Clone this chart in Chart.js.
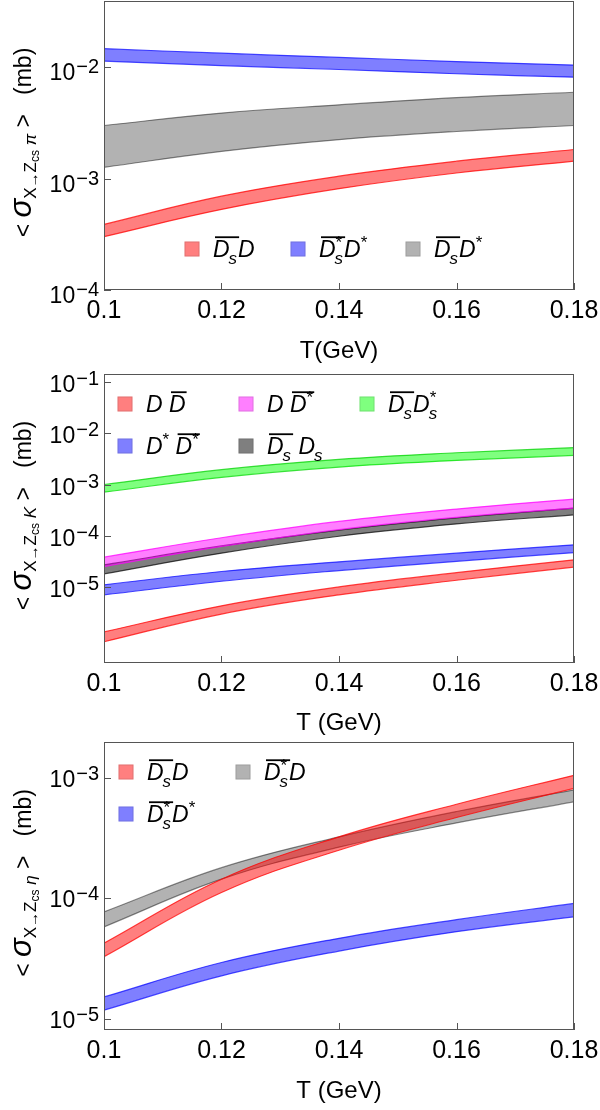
<!DOCTYPE html>
<html>
<head>
<meta charset="utf-8">
<title>Thermal cross sections of X to Zcs</title>
<script src="https://cdn.jsdelivr.net/npm/chart.js@4.4.1/dist/chart.umd.min.js"></script>
<style>
  body { margin: 0; background: #fff; }
  canvas { display: block; }
</style>
</head>
<body>
<canvas id="piChart" width="600" height="370"></canvas>
<canvas id="kChart" width="600" height="370"></canvas>
<canvas id="etaChart" width="600" height="370"></canvas>
<script>
// Temperature grid (GeV) and x tick values
const temps = [0.1, 0.12, 0.14, 0.16, 0.18];
const tempTicks = [0.1, 0.12, 0.14, 0.16, 0.18];

// <sigma X -> Zcs pi> (mb), upper and lower edge of each band
const piDsD_hi = [3.88e-4, 6.95e-4, 1.05e-3, 1.43e-3, 1.82e-3];
const piDsD_lo = [3.01e-4, 5.28e-4, 8.1e-4, 1.12e-3, 1.43e-3];
const piDsStDSt_hi = [0.0146, 0.0133, 0.0122, 0.0112, 0.0104];
const piDsStDSt_lo = [0.0113, 0.0103, 0.0095, 0.0087, 0.0081];
const piDsDSt_hi = [2.99e-3, 3.86e-3, 4.58e-3, 5.32e-3, 5.94e-3];
const piDsDSt_lo = [1.26e-3, 1.75e-3, 2.23e-3, 2.64e-3, 2.99e-3];
const piTicks = [1e-4, 1e-3, 1e-2];

// <sigma X -> Zcs K> (mb)
const kDD_hi = [1.32e-6, 4.27e-6, 1.0e-5, 1.9e-5, 3.39e-5];
const kDD_lo = [8.5e-7, 2.95e-6, 7.0e-6, 1.35e-5, 2.44e-5];
const kDDSt_hi = [3.82e-5, 9.12e-5, 1.9e-4, 3.31e-4, 5.19e-4];
const kDDSt_lo = [2.5e-5, 6.17e-5, 1.32e-4, 2.29e-4, 3.46e-4];
const kDsDsSt_hi = [1.0e-3, 1.95e-3, 3.09e-3, 4.17e-3, 5.25e-3];
const kDsDsSt_lo = [7.08e-4, 1.38e-3, 2.19e-3, 2.95e-3, 3.72e-3];
const kDStDSt_hi = [1.1e-5, 2.0e-5, 3.09e-5, 4.57e-5, 6.64e-5];
const kDStDSt_lo = [7.0e-6, 1.29e-5, 2.09e-5, 3.16e-5, 4.68e-5];
const kDsDs_hi = [2.7e-5, 6.31e-5, 1.29e-4, 2.24e-4, 3.46e-4];
const kDsDs_lo = [1.8e-5, 4.57e-5, 9.77e-5, 1.7e-4, 2.56e-4];
const kTicks = [1e-5, 1e-4, 1e-3, 1e-2, 1e-1];

// <sigma X -> Zcs eta> (mb)
const etaDsD_hi = [4.27e-5, 1.445e-4, 3.24e-4, 6.03e-4, 1.047e-3];
const etaDsD_lo = [3.29e-5, 1.12e-4, 2.51e-4, 4.68e-4, 8.15e-4];
const etaDsStD_hi = [7.75e-5, 1.8e-4, 3.24e-4, 5.25e-4, 7.94e-4];
const etaDsStD_lo = [5.82e-5, 1.445e-4, 2.66e-4, 4.22e-4, 6.31e-4];
const etaDsStDSt_hi = [1.53e-5, 2.95e-5, 4.68e-5, 6.68e-5, 9.1e-5];
const etaDsStDSt_lo = [1.19e-5, 2.29e-5, 3.67e-5, 5.31e-5, 7.05e-5];
const etaTicks = [1e-5, 1e-4, 1e-3];

// Legend labels: t = letter, sup / sub = small marks, bar = under the overline
const lblDsD = [{ t: "D", sub: "s", bar: 1 }, { t: "D" }];
const lblDsStDSt = [{ t: "D", sup: "*", sub: "s", bar: 1 }, { t: "D", sup: "*" }];
const lblDsDSt = [{ t: "D", sub: "s", bar: 1 }, { t: "D", sup: "*" }];
const lblDD = [{ t: "D" }, { t: " " }, { t: "D", bar: 1 }];
const lblDDSt = [{ t: "D" }, { t: " " }, { t: "D", sup: "*", bar: 1 }];
const lblDsDsSt = [{ t: "D", sub: "s", bar: 1 }, { t: "D", sup: "*", sub: "s" }];
const lblDStDSt = [{ t: "D", sup: "*" }, { t: " " }, { t: "D", sup: "*", bar: 1 }];
const lblDsDs = [{ t: "D", sub: "s", bar: 1 }, { t: " " }, { t: "D", sub: "s" }];
const lblDsStD = [{ t: "D", sup: "*", sub: "s", bar: 1 }, { t: "D" }];

const FAMILY = "'Liberation Sans', Arial, sans-serif";

const RED = ["rgba(255,0,0,0.5)", "rgba(255,0,0,0.75)"];
const BLUE = ["rgba(0,0,255,0.5)", "rgba(0,0,255,0.7)"];
const GRAY = ["rgba(0,0,0,0.3)", "rgba(0,0,0,0.45)"];
const MAGENTA = ["rgba(255,0,255,0.5)", "rgba(255,0,255,0.75)"];
const GREEN = ["rgba(0,255,0,0.5)", "rgba(0,210,0,0.75)"];
const DARK = ["rgba(0,0,0,0.5)", "rgba(0,0,0,0.7)"];

// Two line datasets per band, the upper one filled down to the lower one
function band(name, hi, lo, colors) {
  const common = {
    borderColor: colors[1],
    borderWidth: 1.2,
    pointRadius: 0,
    tension: 0.4,
  };
  return [
    { label: name, data: temps.map((t, i) => ({ x: t, y: hi[i] })), fill: "+1", backgroundColor: colors[0], ...common },
    { label: name + " (low)", data: temps.map((t, i) => ({ x: t, y: lo[i] })), fill: false, ...common },
  ];
}

// Draw a run of text pieces {t, size, it, dy} starting at x on baseline y
function drawRun(ctx, parts, x, y) {
  let cx = x;
  parts.forEach((p) => {
    ctx.font = (p.it ? "italic " : "") + p.size + "px " + FAMILY;
    ctx.fillText(p.t, cx, y + (p.dy || 0));
    cx += ctx.measureText(p.t).width;
  });
  return cx - x;
}

function runWidth(ctx, parts) {
  let w = 0;
  parts.forEach((p) => {
    ctx.font = (p.it ? "italic " : "") + p.size + "px " + FAMILY;
    w += ctx.measureText(p.t).width;
  });
  return w;
}

// Legend label with overlines, sub- and superscripts
function drawLabel(ctx, pieces, x, y, size) {
  let cx = x;
  let bar = null;
  const bars = [];
  const small = Math.round(size * 0.75);
  pieces.forEach((p) => {
    const start = cx;
    ctx.font = "italic " + size + "px " + FAMILY;
    ctx.fillText(p.t, cx, y);
    const w = ctx.measureText(p.t).width;
    let extra = 0;
    if (p.sup) {
      ctx.font = small + "px " + FAMILY;
      ctx.fillText(p.sup, cx + w, y - size * 0.38);
      extra = ctx.measureText(p.sup).width;
    }
    if (p.sub) {
      ctx.font = "italic " + small + "px " + FAMILY;
      ctx.fillText(p.sub, cx + w - 1, y + size * 0.3);
      extra = Math.max(extra, ctx.measureText(p.sub).width);
    }
    cx += w + extra;
    if (p.bar) {
      if (!bar) bar = [start, cx];
      else bar[1] = cx;
    } else if (bar) {
      bars.push(bar);
      bar = null;
    }
  });
  if (bar) bars.push(bar);
  ctx.lineWidth = 1.8;
  ctx.strokeStyle = "#000";
  bars.forEach(([a, b]) => {
    ctx.beginPath();
    ctx.moveTo(a + 2, y - size * 0.86);
    ctx.lineTo(b + 1, y - size * 0.86);
    ctx.stroke();
  });
}

// Frame, inward ticks, y labels with exponents, rotated y title and legend
const decorations = {
  id: "decorations",
  afterDraw(chart, args, opts) {
    const { ctx, chartArea: a } = chart;
    const xs = chart.scales.x;
    const ys = chart.scales.y;
    ctx.save();
    ctx.strokeStyle = "#555";
    ctx.lineWidth = 1;
    ctx.strokeRect(a.left + 0.5, a.top + 0.5, a.right - a.left - 1, a.bottom - a.top - 1);
    ctx.beginPath();
    tempTicks.forEach((v) => {
      const px = Math.round(xs.getPixelForValue(v)) + 0.5;
      ctx.moveTo(px, a.bottom);
      ctx.lineTo(px, a.bottom - 7);
    });
    opts.yTicks.forEach((v) => {
      const py = Math.round(ys.getPixelForValue(v)) + 0.5;
      ctx.moveTo(a.left, py);
      ctx.lineTo(a.left + 7, py);
    });
    ctx.stroke();

    ctx.fillStyle = "#000";
    ctx.textAlign = "left";
    ctx.textBaseline = "alphabetic";
    opts.yTicks.forEach((v) => {
      const py = ys.getPixelForValue(v) + opts.labelShift;
      const exp = "\u2212" + Math.abs(Math.round(Math.log10(v)));
      ctx.font = "20px " + FAMILY;
      const xe = a.left - 5 - ctx.measureText(exp).width;
      ctx.fillText(exp, xe, py - 7);
      ctx.font = "23px " + FAMILY;
      ctx.fillText("10", xe - ctx.measureText("10").width - 1, py);
    });

    const title = [
      { t: "< ", size: 23 },
      { t: "\u03c3", size: 31, it: true },
      { t: "X", size: 17, dy: 5 },
      { t: "\u2192", size: 15, dy: 7 },
      { t: "Z", size: 17, dy: 5 },
      { t: "cs", size: 12, dy: 8 },
      { t: " " + opts.meson, size: 17, it: true, dy: 5 },
      { t: " >   (mb)", size: 23 },
    ];
    const tw = runWidth(ctx, title);
    ctx.translate(31, (a.top + a.bottom) / 2 - 3);
    ctx.rotate(-Math.PI / 2);
    drawRun(ctx, title, -tw / 2, 0);
    ctx.restore();

    ctx.save();
    opts.legend.forEach((item) => {
      ctx.fillStyle = chart.data.datasets[item.ds].backgroundColor;
      ctx.fillRect(item.x - 7.5, item.y - 7.5, 15, 15);
      ctx.strokeStyle = "rgba(0,0,0,0.12)";
      ctx.lineWidth = 1;
      ctx.strokeRect(item.x - 7, item.y - 7, 14, 14);
      ctx.fillStyle = "#000";
      ctx.textAlign = "left";
      ctx.textBaseline = "alphabetic";
      drawLabel(ctx, item.label, item.x + 21, item.y + 8, 23);
    });
    ctx.restore();
  },
};

function makeChart(id, cfg) {
  return new Chart(document.getElementById(id), {
    type: "line",
    data: { datasets: cfg.datasets },
    options: {
      responsive: false,
      animation: false,
      layout: { padding: { left: 0, right: 26, top: cfg.top, bottom: 0 } },
      plugins: {
        legend: { display: false },
        tooltip: { enabled: false },
        decorations: { yTicks: cfg.yTicks, labelShift: cfg.labelShift, meson: cfg.meson, legend: cfg.legend },
      },
      scales: {
        x: {
          type: "linear",
          min: 0.1,
          max: 0.18,
          afterBuildTicks: (s) => { s.ticks = tempTicks.map((v) => ({ value: v })); },
          afterFit: (s) => { s.height = 370 - cfg.bottom; s.paddingLeft = 0; s.paddingRight = 0; },
          grid: { display: false, drawTicks: false },
          border: { display: false },
          ticks: {
            font: { size: 25, family: FAMILY },
            color: "#000",
            padding: 6,
            maxRotation: 0,
            autoSkip: false,
            callback: (v) => String(Number(v.toFixed(2))),
          },
          title: {
            display: true,
            text: cfg.xTitle,
            font: { size: 24, family: FAMILY },
            color: "#000",
            padding: { top: 0, bottom: cfg.titlePad },
          },
        },
        y: {
          type: "logarithmic",
          min: cfg.yMin,
          max: cfg.yMax,
          afterBuildTicks: (s) => { s.ticks = cfg.yTicks.map((v) => ({ value: v })); },
          afterFit: (s) => { s.width = 104; },
          grid: { display: false, drawTicks: false },
          border: { display: false },
          ticks: { display: false },
        },
      },
    },
    plugins: [decorations],
  });
}

makeChart("piChart", {
  datasets: [
    ...band("Ds-bar D", piDsD_hi, piDsD_lo, RED),
    ...band("Ds*-bar D*", piDsStDSt_hi, piDsStDSt_lo, BLUE),
    ...band("Ds-bar D*", piDsDSt_hi, piDsDSt_lo, GRAY),
  ],
  top: 1, bottom: 290, yMin: 1e-4, yMax: 0.0391, yTicks: piTicks,
  labelShift: 13, meson: "\u03c0", xTitle: "T(GeV)", titlePad: 4,
  legend: [
    { ds: 0, label: lblDsD, x: 192, y: 249 },
    { ds: 2, label: lblDsStDSt, x: 298, y: 249 },
    { ds: 4, label: lblDsDSt, x: 413, y: 249 },
  ],
});

makeChart("kChart", {
  datasets: [
    ...band("D D-bar", kDD_hi, kDD_lo, RED),
    ...band("D D*-bar", kDDSt_hi, kDDSt_lo, MAGENTA),
    ...band("Ds-bar Ds*", kDsDsSt_hi, kDsDsSt_lo, GREEN),
    ...band("D* D*-bar", kDStDSt_hi, kDStDSt_lo, BLUE),
    ...band("Ds-bar Ds", kDsDs_hi, kDsDs_lo, DARK),
  ],
  top: 4, bottom: 293, yMin: 3.27e-7, yMax: 0.144, yTicks: kTicks,
  labelShift: 10, meson: "K", xTitle: "T (GeV)", titlePad: 2,
  legend: [
    { ds: 0, label: lblDD, x: 125, y: 34 },
    { ds: 2, label: lblDDSt, x: 246, y: 34 },
    { ds: 4, label: lblDsDsSt, x: 367, y: 34 },
    { ds: 6, label: lblDStDSt, x: 125, y: 76 },
    { ds: 8, label: lblDsDs, x: 246, y: 76 },
  ],
});

makeChart("etaChart", {
  datasets: [
    ...band("Ds-bar D", etaDsD_hi, etaDsD_lo, RED),
    ...band("Ds*-bar D", etaDsStD_hi, etaDsStD_lo, GRAY),
    ...band("Ds*-bar D*", etaDsStDSt_hi, etaDsStDSt_lo, BLUE),
  ],
  top: 2, bottom: 290, yMin: 8.15e-6, yMax: 1.975e-3, yTicks: etaTicks,
  labelShift: 9, meson: "\u03b7", xTitle: "T (GeV)", titlePad: 4,
  legend: [
    { ds: 0, label: lblDsD, x: 126, y: 32 },
    { ds: 2, label: lblDsStD, x: 243, y: 32 },
    { ds: 4, label: lblDsStDSt, x: 126, y: 74 },
  ],
});
</script>
</body>
</html>
